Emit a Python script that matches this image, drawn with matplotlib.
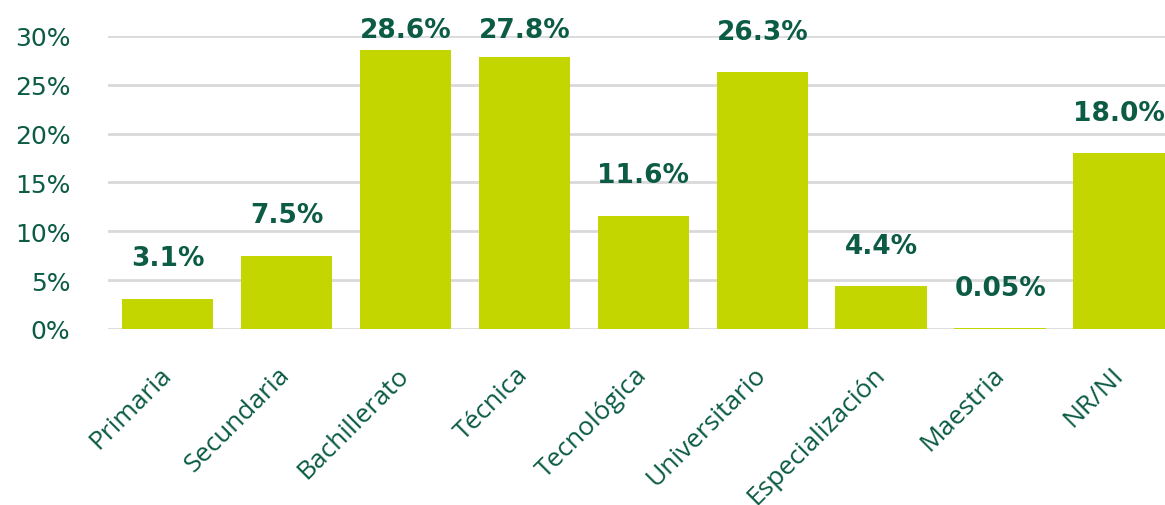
import matplotlib.pyplot as plt

categories = ["Primaria", "Secundaria", "Bachillerato", "Técnica", "Tecnológica",
              "Universitario", "Especialización", "Maestria", "NR/NI"]
values = [3.1, 7.5, 28.6, 27.8, 11.6, 26.3, 4.4, 0.05, 18.0]
labels = ["3.1%", "7.5%", "28.6%", "27.8%", "11.6%", "26.3%", "4.4%", "0.05%", "18.0%"]
yticks = [0, 5, 10, 15, 20, 25, 30]

bar_color = "#C4D600"
text_color = "#0B5B45"

fig = plt.figure(figsize=(11.65, 5.06), dpi=100)
ax = fig.add_axes([0.0927, 0.348, 0.9073, 0.579])

x = range(len(categories))
ax.bar(x, values, width=0.77, color=bar_color, zorder=3)

# labels sit ~33px above the bar, but never above the top of the plot
for i, (v, lab) in enumerate(zip(values, labels)):
    ax.text(i, min(v + 3.4, 29.9), lab, ha="center", va="baseline",
            fontsize=19, fontweight="bold", color=text_color,
            family="DejaVu Sans", clip_on=False)

ax.set_xlim(-0.5, 8.385)
ax.set_ylim(0, 30)
ax.set_yticks(yticks)
ax.set_yticklabels([f"{t}%" for t in yticks], fontsize=18, color=text_color, family="DejaVu Sans")
ax.yaxis.grid(True, color="#D9D9D9", linewidth=2, zorder=0)
ax.tick_params(axis="y", length=0, pad=27)
ax.tick_params(axis="x", length=0, pad=30)
ax.set_xticks(list(x))
ax.set_xticklabels(categories, rotation=45, ha="right", va="center",
                   rotation_mode="anchor", fontsize=19, color=text_color, family="Open Sans")
for s in ax.spines.values():
    s.set_visible(False)

fig.savefig("out.png", dpi=100)
